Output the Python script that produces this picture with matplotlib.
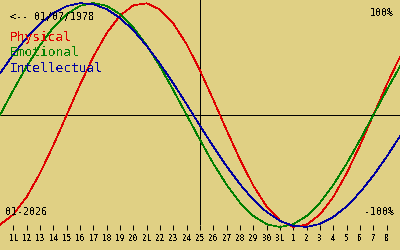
import matplotlib
matplotlib.use("Agg")
import matplotlib.pyplot as plt

# days shown: 10 Jan .. 9 Feb (day numbers continue past 31)
days = list(range(10, 41))
tick_days = list(range(11, 40))
tick_labels = [str(d) for d in range(11, 32)] + [str(d) for d in range(1, 9)]

physical = [-0.979, -0.888, -0.731, -0.520, -0.270, 0.0, 0.270, 0.520, 0.731, 0.888,
            0.979, 0.998, 0.942, 0.817, 0.631, 0.398, 0.136, -0.136, -0.398, -0.631,
            -0.817, -0.942, -0.998, -0.979, -0.888, -0.731, -0.520, -0.270, 0.0, 0.270,
            0.520]
emotional = [0.0, 0.222, 0.434, 0.623, 0.782, 0.901, 0.975, 1.0, 0.975, 0.901,
             0.782, 0.623, 0.434, 0.222, 0.0, -0.222, -0.434, -0.623, -0.782, -0.901,
             -0.975, -1.0, -0.975, -0.901, -0.782, -0.623, -0.434, -0.222, 0.0, 0.222,
             0.434]
intellectual = [0.372, 0.541, 0.690, 0.815, 0.910, 0.972, 0.999, 0.990, 0.945, 0.866,
                0.756, 0.618, 0.458, 0.282, 0.095, -0.095, -0.282, -0.458, -0.618, -0.756,
                -0.866, -0.945, -0.990, -0.999, -0.972, -0.910, -0.815, -0.690, -0.541, -0.372,
                -0.189]

today = 25
birth_label = "<-- 01/07/1978"
month_label = "01-2026"

bg = "#e0d084"
c_phys, c_emo, c_int = "#e00000", "#008000", "#0000a0"

plt.rcParams["text.antialiased"] = False
mono = "DejaVu Sans Mono"

fig = plt.figure(figsize=(4, 2.5), dpi=100, facecolor=bg)
ax = fig.add_axes([0, 0, 1, 1], facecolor=bg)

ax.axhline(0, color="black", lw=0.72, antialiased=False)
ax.axvline(today, ymin=0.104, ymax=1, color="black", lw=0.72, antialiased=False)

ax.plot(days, physical, color=c_phys, lw=0.5, antialiased=False)
ax.plot(days, emotional, color=c_emo, lw=0.5, antialiased=False)
ax.plot(days, intellectual, color=c_int, lw=0.5, antialiased=False)

ax.set_xlim(10, 40)
ax.set_ylim(-1.205, 1.027)

for s in ["top", "right", "left"]:
    ax.spines[s].set_visible(False)
ax.spines["bottom"].set_position(("data", -1.027))
ax.spines["bottom"].set_visible(False)
ax.set_yticks([])
ax.set_xticks(tick_days)
ax.set_xticklabels(tick_labels, fontfamily=mono, fontsize=5.5)
ax.tick_params(axis="x", direction="in", length=3.6, width=0.72, pad=3, colors="black")

ax.text(0.025, 1 - 16.7 / 250, birth_label, transform=ax.transAxes, fontfamily=mono,
        fontsize=7.2, va="center", ha="left")
ax.text(0.025, 1 - 38 / 250, "Physical", transform=ax.transAxes, fontfamily=mono,
        fontsize=9.3, va="center", ha="left", color=c_phys)
ax.text(0.025, 1 - 53 / 250, "Emotional", transform=ax.transAxes, fontfamily=mono,
        fontsize=9.3, va="center", ha="left", color=c_emo)
ax.text(0.025, 1 - 68 / 250, "Intellectual", transform=ax.transAxes, fontfamily=mono,
        fontsize=9.3, va="center", ha="left", color=c_int)
ax.text(0.985, 1 - 13 / 250, "100%", transform=ax.transAxes, fontfamily=mono,
        fontsize=7.2, va="center", ha="right")
ax.text(0.985, 1 - 212 / 250, "-100%", transform=ax.transAxes, fontfamily=mono,
        fontsize=7.2, va="center", ha="right")
ax.text(0.0125, 1 - 212 / 250, month_label, transform=ax.transAxes, fontfamily=mono,
        fontsize=7.2, va="center", ha="left")

fig.savefig("out.png", dpi=100, facecolor=bg)
